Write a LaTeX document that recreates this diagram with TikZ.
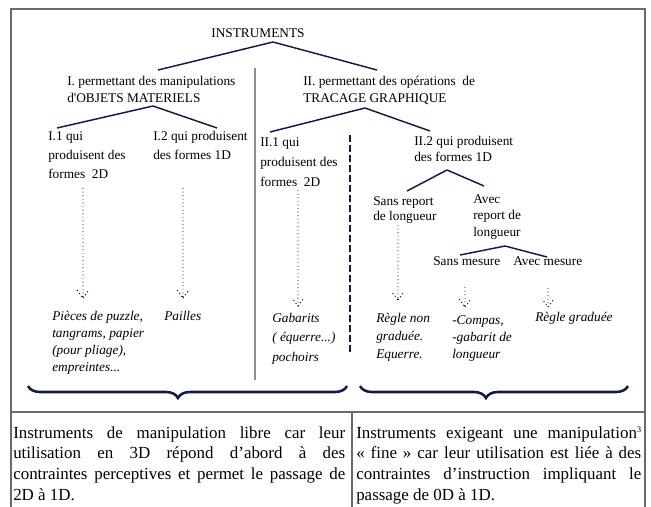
\documentclass[tikz,border=0pt]{standalone}
\usepackage{fontspec}
\setmainfont{Liberation Serif}
\usetikzlibrary{calc,decorations.pathreplacing}
\definecolor{navy}{RGB}{20,26,70}
\definecolor{cadre}{RGB}{105,105,105}

\begin{document}
\begin{tikzpicture}[x=0.75pt,y=-0.75pt,
    lbl/.style={anchor=north west,inner sep=0pt,align=left,font=\fontsize{10}{13}\selectfont},
    itm/.style={lbl,font=\fontsize{10}{13}\selectfont\itshape},
    col/.style={anchor=north west,inner sep=0pt,align=left,font=\fontsize{12.7}{15.6}\selectfont},
    branch/.style={navy,line width=1.1pt},
    dotarrow/.style={dotted,line width=0.7pt,to path={-- (\tikztotarget) -- ++(-6,-8) ++(6,8) -- ++(6,-8)}},
    accolade/.style={navy,line width=1.9pt,decorate,decoration={brace,mirror,amplitude=9pt,aspect=0.47}}]
        % largeur des deux colonnes du bas
        \newcommand{\lignegauche}[1]{\makebox[249pt][s]{#1}}
        \newcommand{\lignedroite}[1]{\makebox[213.75pt][s]{#1}}

        \useasboundingbox (0,0) rectangle (651,507);

        % cadre et tableau
        \draw[cadre,line width=0.8pt] (11,507) -- (11,9) -- (645,9) -- (645,507);
        \draw[cadre,line width=0.8pt] (11,412) -- (645,412);
        \draw[cadre,line width=0.8pt] (352,412) -- (352,507);

        % titres de l'arbre
        \node[lbl,anchor=center,font=\fontsize{10}{12}\selectfont] (instr) at (258,33) {INSTRUMENTS};
        \node[lbl,font=\fontsize{10}{12.75}\selectfont] (typeI) at (67,76) {I. permettant des manipulations\\d\textquotesingle OBJETS MATERIELS};
        \node[lbl,font=\fontsize{10}{12.75}\selectfont] (typeII) at (303,76) {II. permettant des opérations\ \ de\\TRACAGE GRAPHIQUE};

        \node[lbl,font=\fontsize{10}{14.25}\selectfont] (i1) at (48,131) {I.1 qui\\produisent des\\formes\ \ 2D};
        \node[lbl,font=\fontsize{10}{14.25}\selectfont] (i2) at (153,131) {I.2 qui produisent\\des formes 1D};
        \node[lbl,font=\fontsize{10}{15}\selectfont] (ii1) at (260,137) {II.1 qui\\produisent des\\formes\ \ 2D};
        \node[lbl,font=\fontsize{10}{12}\selectfont] (ii2) at (414,136) {II.2 qui produisent\\des formes 1D};

        \node[lbl,font=\fontsize{10}{11.5}\selectfont] (sansrep) at (373,196) {Sans report\\de longueur};
        \node[lbl,font=\fontsize{10}{12.4}\selectfont] (avecrep) at (473,194) {Avec\\report de\\longueur};
        \node[lbl] (sansmes) at (433,256) {Sans mesure};
        \node[lbl] (avecmes) at (513,256) {Avec mesure};

        % les instruments
        \node[itm,font=\fontsize{10}{12.75}\selectfont\itshape] (puzzle) at (52,311) {Pièces de puzzle,\\tangrams, papier\\(pour pliage),\\empreintes...};
        \node[itm] (pailles) at (164,311) {Pailles};
        \node[itm,font=\fontsize{10}{14.6}\selectfont\itshape] (gabarits) at (272,313) {Gabarits\\( équerre...)\\pochoirs};
        \node[itm,font=\fontsize{10}{13.5}\selectfont\itshape] (reglenon) at (376,313) {Règle non\\graduée.\\Equerre.};
        \node[itm] (compas) at (452,315) {-Compas,\\-gabarit de\\longueur};
        \node[itm] (reglegrad) at (535,312) {Règle graduée};

        % branches
        \draw[branch] ($(instr.center)+(15,9)$) -- ($(typeI.north west)+(91,-6)$);
        \draw[branch] ($(instr.center)+(15,9)$) -- ($(typeII.north west)+(74,-6)$);
        \draw[branch] ($(typeI.north west)+(86,30)$) -- ($(i1.north west)+(9,-3)$);
        \draw[branch] ($(typeI.north west)+(86,30)$) -- ($(i2.north west)+(64,-3)$);
        \draw[branch] ($(typeII.north west)+(62,32)$) -- ($(ii1.north west)+(10,-5)$);
        \draw[branch] ($(typeII.north west)+(62,32)$) -- ($(ii2.north west)+(16,-5)$);
        \draw[branch] ($(ii2.north west)+(33,34)$) -- ($(sansrep.north west)+(34,-5)$);
        \draw[branch] ($(ii2.north west)+(33,34)$) -- ($(avecrep.north west)+(11,-8)$);
        \draw[branch] ($(avecrep.north west)+(32,52)$) -- ($(sansmes.north west)+(27,-1)$);
        \draw[branch] ($(avecrep.north west)+(32,52)$) -- ($(avecmes.north west)+(34,1)$);

        % fleches pointillees
        \draw[dotarrow] ($(i1.north west)+(35,57)$) to ($(puzzle.north west)+(31,-13)$);
        \draw[dotarrow] ($(i2.north west)+(30,57)$) to ($(pailles.north west)+(19,-13)$);
        \draw[dotarrow] ($(ii1.north west)+(38,53)$) to ($(gabarits.north west)+(26,-7)$);
        \draw[dotarrow] ($(sansrep.north west)+(25,29)$) to ($(reglenon.north west)+(22,-13)$);
        \draw[dotarrow] ($(sansmes.north west)+(32,31)$) to ($(compas.north west)+(13,-8)$);
        \draw[dotarrow] ($(avecmes.north west)+(35,32)$) to ($(reglegrad.north west)+(13,-5)$);

        % separations
        \draw[cadre!75,line width=0.8pt] (255,68) -- (255,380);
        \draw[navy,line width=1.8pt,dash pattern=on 5pt off 2.5pt] (350,135) -- (350,352);

        % accolades
        \draw[accolade] (28,386) -- (347,386);
        \draw[accolade] (360,386) -- (628,386);

        % texte du tableau
        \node[col] (libre) at (13,426) {\lignegauche{Instruments de manipulation libre car leur}\\
            \lignegauche{utilisation en 3D répond d’abord à des}\\
            \lignegauche{contraintes perceptives et permet le passage de}\\
            2D à 1D.};
        \node[col] (fine) at (356,426) {\lignedroite{Instruments exigeant une manipulation\raisebox{4.5pt}{\fontsize{6.5}{7}\selectfont 3}}\\
            \lignedroite{« fine » car leur utilisation est liée à des}\\
            \lignedroite{contraintes d’instruction impliquant le}\\
            passage de 0D à 1D.};
    \end{tikzpicture}
\end{document}
